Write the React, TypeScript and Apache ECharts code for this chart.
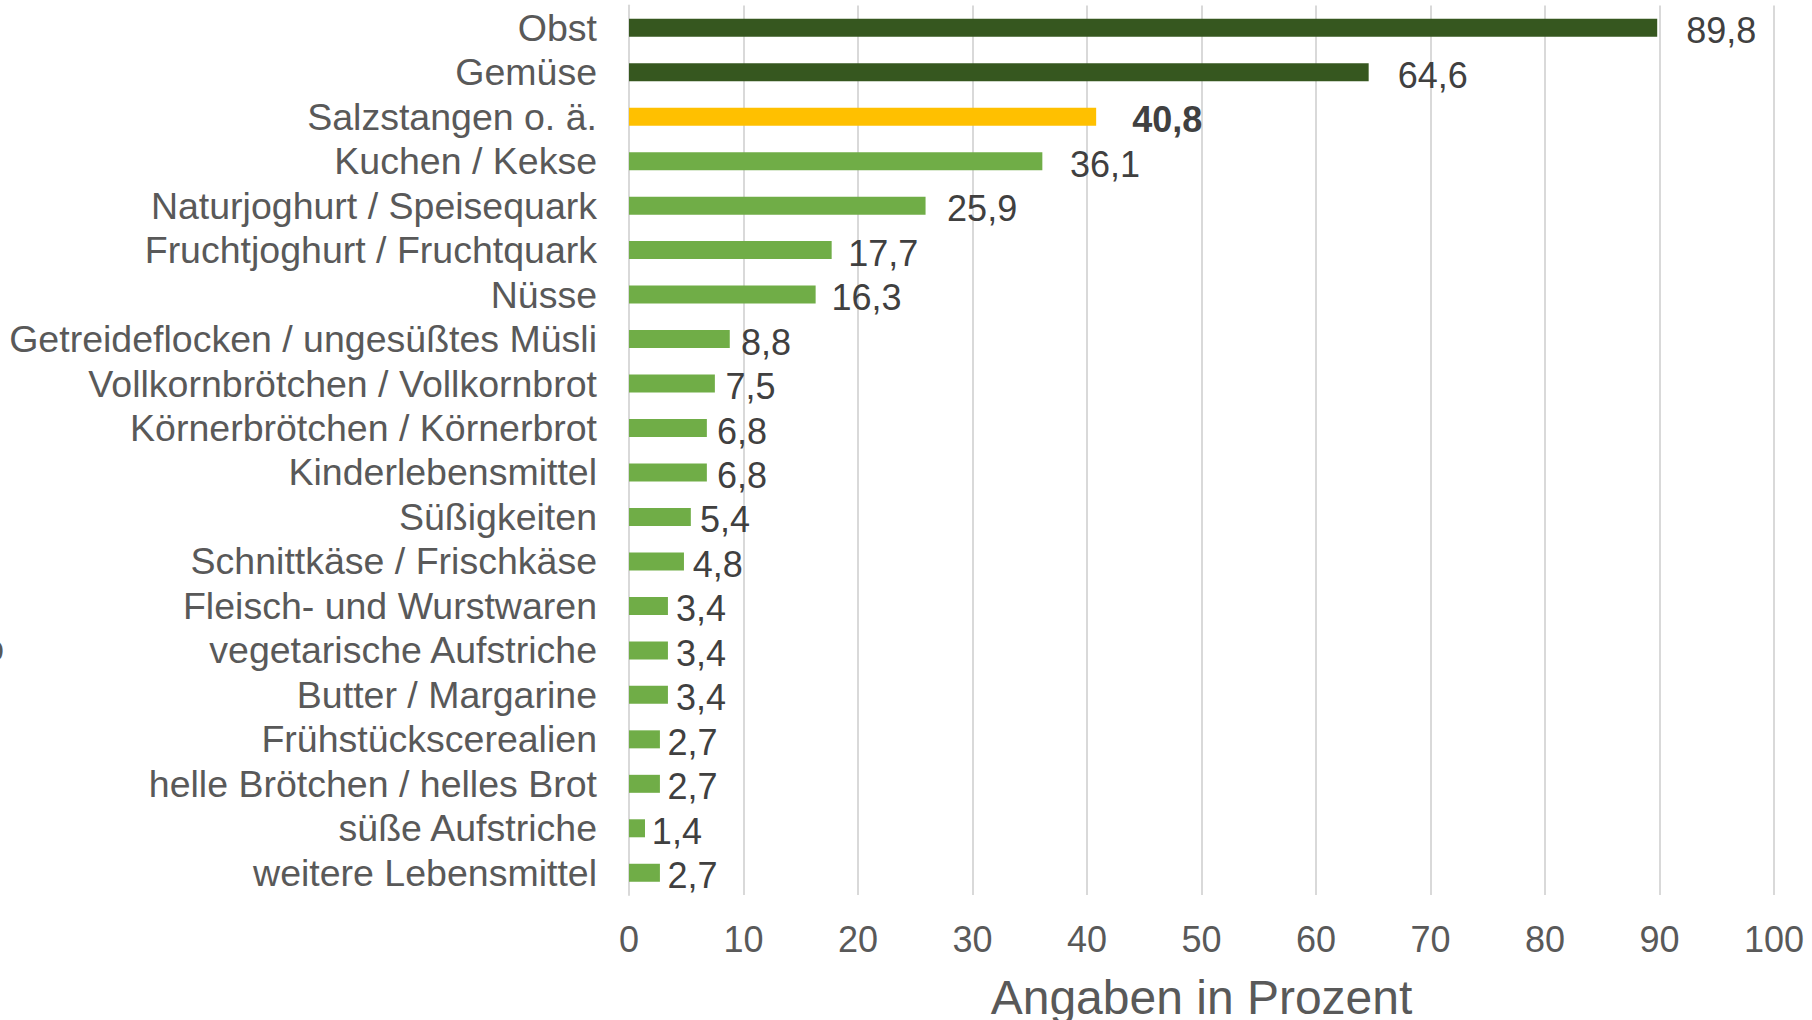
import React, { useEffect, useRef } from "react";
import * as echarts from "echarts";

const categories: string[] = [
  "Obst",
  "Gemüse",
  "Salzstangen o. ä.",
  "Kuchen / Kekse",
  "Naturjoghurt / Speisequark",
  "Fruchtjoghurt / Fruchtquark",
  "Nüsse",
  "Getreideflocken / ungesüßtes Müsli",
  "Vollkornbrötchen / Vollkornbrot",
  "Körnerbrötchen / Körnerbrot",
  "Kinderlebensmittel",
  "Süßigkeiten",
  "Schnittkäse / Frischkäse",
  "Fleisch- und Wurstwaren",
  "vegetarische Aufstriche",
  "Butter / Margarine",
  "Frühstückscerealien",
  "helle Brötchen / helles Brot",
  "süße Aufstriche",
  "weitere Lebensmittel",
];

const values: number[] = [
  89.8, 64.6, 40.8, 36.1, 25.9, 17.7, 16.3, 8.8, 7.5, 6.8, 6.8, 5.4, 4.8, 3.4,
  3.4, 3.4, 2.7, 2.7, 1.4, 2.7,
];

const xTicks: number[] = [0, 10, 20, 30, 40, 50, 60, 70, 80, 90, 100];

const darkCategories: string[] = ["Obst", "Gemüse"];
const highlightCategory = "Salzstangen o. ä.";

const DARK = "#36571f";
const YELLOW = "#FFC000";
const GREEN = "#70AD47";
const FONT = "Arial, 'Liberation Sans', sans-serif";

export default function App() {
  const ref = useRef<HTMLDivElement>(null);

  useEffect(() => {
    if (!ref.current) return;
    document.body.style.margin = "0";
    const chart = echarts.init(ref.current, undefined, { renderer: "svg" });

    const data = values.map((v, i) => {
      const name = categories[i];
      const color = darkCategories.includes(name)
        ? DARK
        : name === highlightCategory
        ? YELLOW
        : GREEN;
      const bold = name === highlightCategory;
      return {
        value: v,
        itemStyle: { color },
        label: {
          distance: Math.min(6 + 0.6 * v, 29) + (bold ? 7 : 0),
          fontWeight: bold ? "bold" : "normal",
        },
      };
    });

    chart.setOption({
      animation: false,
      backgroundColor: "#ffffff",
      grid: {
        left: 629,
        right: 38,
        top: 5.5,
        bottom: 125,
        containLabel: false,
        outerBoundsMode: "none",
      },
      xAxis: {
        type: "value",
        min: xTicks[0],
        max: xTicks[xTicks.length - 1],
        interval: xTicks[1] - xTicks[0],
        axisLine: { show: false },
        axisTick: { show: false },
        splitLine: { show: true, lineStyle: { color: "#D9D9D9", width: 2 } },
        axisLabel: {
          color: "#595959",
          fontSize: 36,
          fontFamily: FONT,
          margin: 26,
        },
        name: "Angaben in Prozent",
        nameLocation: "middle",
        nameGap: 78,
        nameTextStyle: { color: "#595959", fontSize: 48, fontFamily: FONT },
      },
      yAxis: {
        type: "category",
        inverse: true,
        data: categories,
        axisLine: { show: true, lineStyle: { color: "#D9D9D9", width: 2 } },
        axisTick: { show: false },
        splitLine: { show: false },
        axisLabel: {
          interval: 0,
          color: "#595959",
          fontSize: 37.5,
          fontFamily: FONT,
          margin: 32,
          offset: [0, -2],
        },
      },
      series: [
        {
          type: "bar",
          data,
          barWidth: 18,
          label: {
            show: true,
            position: "right",
            color: "#404040",
            fontSize: 36,
            fontFamily: FONT,
            offset: [0, 3],
            formatter: (p: any) => Number(p.value).toFixed(1).replace(".", ","),
          },
        },
      ],
      graphic: [
        {
          type: "text",
          left: -16,
          top: 630,
          style: {
            text: "o",
            fill: "#595959",
            font: `36px ${FONT}`,
          },
        },
      ],
    });

    return () => chart.dispose();
  }, []);

  return <div ref={ref} style={{ width: 1812, height: 1020 }} />;
}
